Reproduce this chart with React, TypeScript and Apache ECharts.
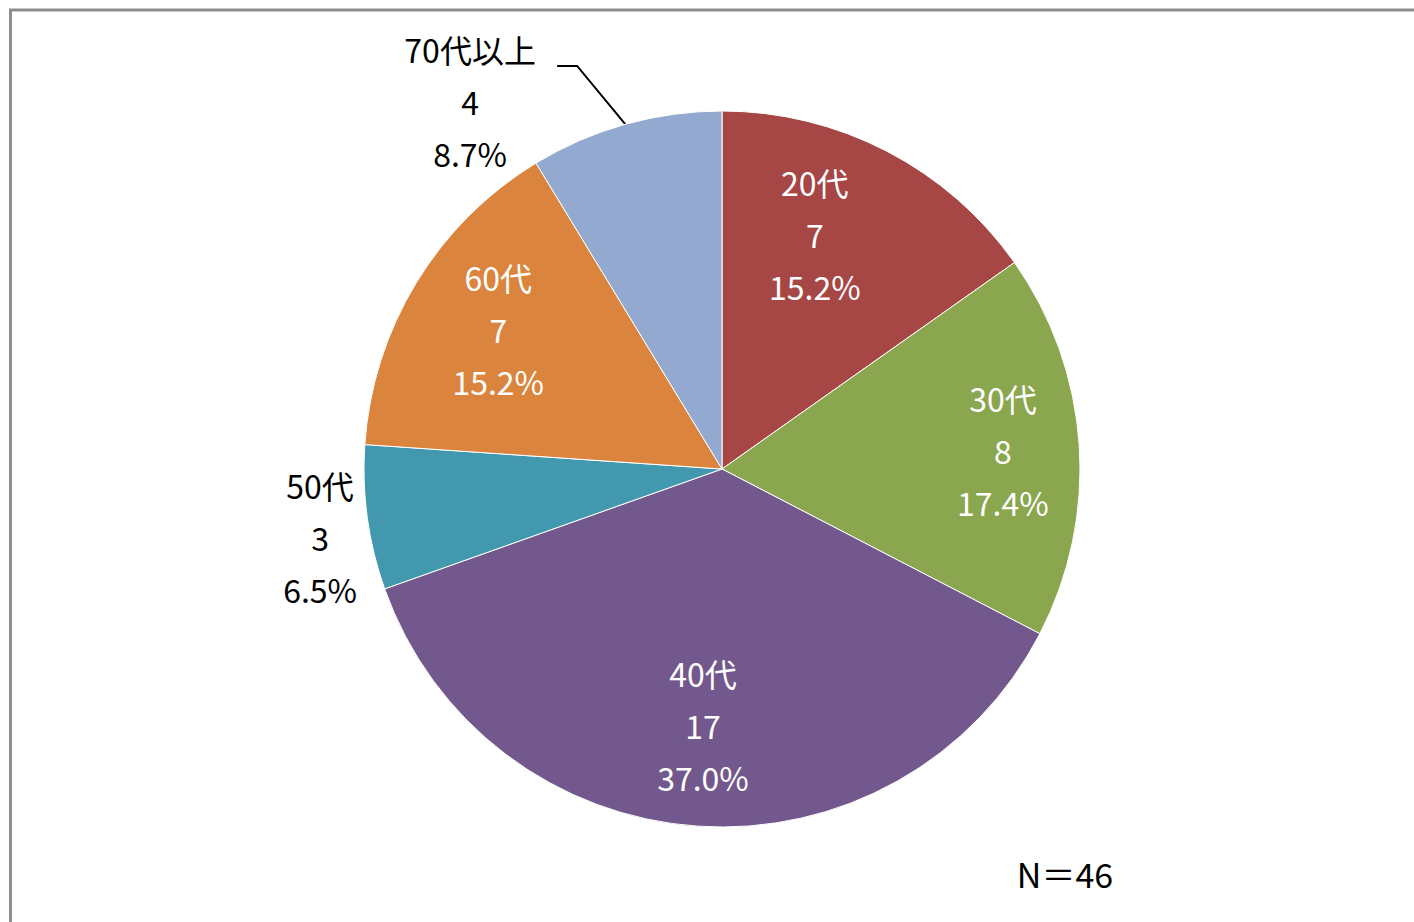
import React, { useEffect, useRef } from 'react';
import * as echarts from 'echarts';

// ---- data ----
const categories = ['20代', '30代', '40代', '50代', '60代', '70代以上'];
const counts = [7, 8, 17, 3, 7, 4];
const sampleNote = 'N＝46';

// ---- style / layout ----
const colors = ['#A64645', '#8AA64E', '#72588D', '#4298AF', '#DB843D', '#94A9CF'];
const insideLabel = [true, true, true, false, true, false];
const leaderLine = [false, false, false, false, false, true];
const CX = 722;
const CY = 469;
const R = 358;
// label centre in polar terms: [distance as fraction of R, angle deg (ccw from +x)]
const labelPolar: [number, number][] = [
  [0.698, 68.2],
  [0.786, 3.3],
  [0.725, -94.2],
  [1.14, 190],
  [0.733, 148.5],
  [1.239, 124.6],
];
const FONT = '"Noto Sans CJK JP", "Noto Sans", sans-serif';
const LABEL_DY = -3;

export default function App() {
  const ref = useRef<HTMLDivElement>(null);
  useEffect(() => {
    if (!ref.current) return;
    const chart = echarts.init(ref.current, null, { renderer: 'svg' });
    const total = counts.reduce((a, b) => a + b, 0);
    const cum: number[] = [];
    counts.reduce((acc, v) => {
      cum.push(acc);
      return acc + v;
    }, 0);

    const data = categories.map((name, i) => ({
      name,
      value: counts[i],
      itemStyle: { color: colors[i] },
      label: {
        position: insideLabel[i] ? 'inside' : 'outside',
        color: insideLabel[i] ? '#ffffff' : '#000000',
      },
      labelLine: {
        show: leaderLine[i],
        lineStyle: { color: '#000000', width: 2 },
      },
    }));

    chart.setOption({
      animation: false,
      backgroundColor: '#ffffff',
      graphic: [
        {
          type: 'rect',
          shape: { x: 10.5, y: 10, width: 1600, height: 1200 },
          style: { fill: 'none', stroke: '#8e8e8e', lineWidth: 3 },
          silent: true,
        },
        {
          type: 'text',
          x: 1065,
          y: 873,
          style: {
            text: sampleNote,
            font: `34px ${FONT}`,
            fill: '#000000',
            align: 'center',
            verticalAlign: 'middle',
          },
        },
      ],
      series: [
        {
          type: 'pie',
          center: [CX, CY],
          radius: R,
          startAngle: 90,
          clockwise: true,
          avoidLabelOverlap: false,
          percentPrecision: 1,
          emphasis: { disabled: true },
          itemStyle: { borderColor: '#ffffff', borderWidth: 1 },
          label: {
            show: true,
            fontFamily: FONT,
            fontSize: 32,
            lineHeight: 52,
            textBorderWidth: 0,
            formatter: (p: any) => `${p.name}\n${p.value}\n${p.percent.toFixed(1)}%`,
          },
          labelLine: { show: false, smooth: false },
          labelLayout: (params: any) => {
            const i = params.dataIndex;
            const [f, a] = labelPolar[i];
            const rad = (a * Math.PI) / 180;
            const x = CX + f * R * Math.cos(rad);
            const y = CY - f * R * Math.sin(rad) + LABEL_DY;
            const res: any = { x, y, align: 'center', verticalAlign: 'middle' };
            if (leaderLine[i]) {
              const mid = ((cum[i] + counts[i] / 2) / total) * 2 * Math.PI;
              const p0 = [CX + R * Math.sin(mid), CY - R * Math.cos(mid)];
              res.labelLinePoints = [p0, [x + 107, y - 35], [x + 87, y - 35]];
            }
            return res;
          },
          data,
        },
      ],
    });
    return () => chart.dispose();
  }, []);
  return (
    <div
      ref={ref}
      style={{ position: 'fixed', left: 0, top: 0, width: 1414, height: 922 }}
    />
  );
}
